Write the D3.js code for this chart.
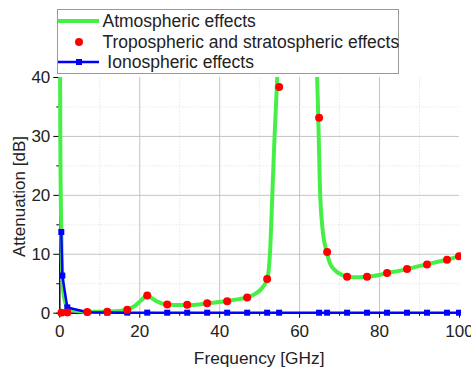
<!DOCTYPE html>
<html>
<head>
<meta charset="utf-8">
<script src="https://cdn.jsdelivr.net/npm/d3@7"></script>
<style>
  body { margin: 0; background: #fff; }
  svg { display: block; font-family: 'Liberation Sans', Arial, sans-serif; }
  .axis path, .axis line { stroke: #000; stroke-width: 1; }
  .axis text { font-size: 17px; fill: #222; }
  .grid line { stroke: #c4c4c4; stroke-width: 1; }
  .grid path { stroke: none; }
  .minorGrid line { stroke: #dcdcdc; stroke-width: 1; stroke-dasharray: 1,2; }
  .minorGrid path { stroke: none; }
</style>
</head>
<body>
<div id="graph"></div>
<script>
// Total atmospheric attenuation (green curve)
var atmFreq = [0.1, 0.25, 0.5, 0.75, 1, 1.5, 2, 3, 5, 7, 10, 12, 15, 17, 19, 20.5, 22, 23.5, 24.5, 26, 27, 30, 32, 35, 37, 40, 42, 45, 47, 49, 50.5, 52, 52.7, 53.3, 53.8, 54.4, 54.8, 60,
               64.5, 64.8, 65.2, 65.8, 66.9, 67.7, 69.3, 70.5, 72, 75, 77, 80, 82, 85, 87, 90, 92, 95, 97, 100];
var atmVal  = [60, 30, 13.7, 6.3, 3.6, 1.7, 1.0, 0.55, 0.25, 0.15, 0.15, 0.2, 0.3, 0.5, 1.2, 2.1, 2.9, 2.3, 1.9, 1.5, 1.4, 1.3, 1.3, 1.4, 1.6, 1.8, 2.0, 2.3, 2.6, 3.2, 4.0, 5.7, 10, 20, 29, 38, 45, 150,
               40, 33, 21.4, 14.6, 10.3, 8.4, 7.0, 6.5, 6.1, 6.0, 6.1, 6.4, 6.75, 7.1, 7.4, 7.9, 8.2, 8.7, 9.0, 9.6];

// Tropospheric and stratospheric effects (red dots)
var tropoFreq = [0.5, 2, 7, 12, 17, 22, 27, 32, 37, 42, 47, 52, 55, 65, 67, 72, 77, 82, 87, 92, 97, 100];
var tropoVal  = [0, 0.05, 0.1, 0.17, 0.5, 2.9, 1.4, 1.35, 1.6, 1.95, 2.6, 5.7, 38.3, 33.1, 10.3, 6.1, 6.1, 6.75, 7.4, 8.2, 9.0, 9.6];

// Ionospheric effects (blue squares)
var ionoFreq = [0.5, 0.75, 2, 7, 12, 17, 22, 27, 32, 37, 42, 47, 52, 55, 65, 67, 72, 77, 82, 87, 92, 97, 100];
var ionoVal  = [13.7, 6.3, 0.9, 0.07, 0.02, 0.01, 0.01, 0, 0, 0, 0, 0, 0, 0, 0, 0, 0, 0, 0, 0, 0, 0, 0];

var xTicks      = [0, 20, 40, 60, 80, 100];
var xMinorTicks = [10, 30, 50, 70, 90];
var yTicks      = [0, 10, 20, 30, 40];
var yMinorTicks = [5, 15, 25, 35];

var legendLabels = ['Atmospheric effects', 'Tropospheric and stratospheric effects', ' Ionospheric effects'];

var xTitle = 'Frequency [GHz]';
var yTitle = 'Attenuation [dB]';

function D3App ()
{
    var margin = { top: 77, right: 12, bottom: 58.3, left: 59.3 };
    var width  = 471 - margin.left - margin.right;
    var height = 371 - margin.top  - margin.bottom;

    var green = '#46ef46';
    var red   = '#ff0000';
    var blue  = '#0000ff';

    var root = d3.select ('#graph')
                 .append ('svg')
                 .attr ('width', 471)
                 .attr ('height', 371);

    var svg = root.append ('g')
                  .attr ('transform', 'translate(' + margin.left + ',' + margin.top + ')');

    var xScale = d3.scaleLinear ()
                   .domain ( [ 0, 100 ] )
                   .range ( [ 0, width ] );

    var yScale = d3.scaleLinear ()
                   .domain ( [ 0, 40 ] )
                   .range ( [ height, 0 ] );

    // grid lines, minor dotted then major solid
    svg.append ('g')
       .attr ('class', 'minorGrid')
       .attr ('transform', 'translate(0,' + height + ')')
       .call (d3.axisBottom (xScale).tickValues (xMinorTicks).tickSize (-height).tickFormat (''));

    svg.append ('g')
       .attr ('class', 'minorGrid')
       .call (d3.axisLeft (yScale).tickValues (yMinorTicks).tickSize (-width).tickFormat (''));

    svg.append ('g')
       .attr ('class', 'grid')
       .attr ('transform', 'translate(0,' + height + ')')
       .call (d3.axisBottom (xScale).tickValues ( [20, 40, 60, 80] ).tickSize (-height).tickFormat (''));

    svg.append ('g')
       .attr ('class', 'grid')
       .call (d3.axisLeft (yScale).tickValues ( [10, 20, 30] ).tickSize (-width).tickFormat (''));

    svg.append ('clipPath')
       .attr ('id', 'graphArea')
       .append ('rect')
       .attr ('x', -2)
       .attr ('y', 0)
       .attr ('width', width + 4)
       .attr ('height', height + 4);

    // axes
    svg.append ('g')
       .attr ('class', 'x axis')
       .attr ('transform', 'translate(0,' + height + ')')
       .call (d3.axisBottom (xScale).tickValues (xMinorTicks).tickSize (3).tickFormat (''));

    svg.append ('g')
       .attr ('class', 'x axis')
       .attr ('transform', 'translate(0,' + height + ')')
       .call (d3.axisBottom (xScale).tickValues (xTicks).tickSize (5).tickSizeOuter (0).tickPadding (7).tickFormat (d3.format ('d')));

    svg.append ('g')
       .attr ('class', 'y axis')
       .call (d3.axisLeft (yScale).tickValues (yMinorTicks).tickSize (3).tickFormat (''));

    svg.append ('g')
       .attr ('class', 'y axis')
       .call (d3.axisLeft (yScale).tickValues (yTicks).tickSize (6).tickSizeOuter (0).tickPadding (3).tickFormat (d3.format ('d')));

    // series
    var atmData   = atmFreq.map (function (f, i) { return { x: f, y: atmVal[i] }; });
    var tropoData = tropoFreq.map (function (f, i) { return { x: f, y: tropoVal[i] }; });
    var ionoData  = ionoFreq.map (function (f, i) { return { x: f, y: ionoVal[i] }; });

    var smoothLine = d3.line ()
                       .x (function (d) { return xScale (d.x); })
                       .y (function (d) { return yScale (d.y); })
                       .curve (d3.curveMonotoneX);

    var straightLine = d3.line ()
                         .x (function (d) { return xScale (d.x); })
                         .y (function (d) { return yScale (d.y); });

    var plot = svg.append ('g')
                  .attr ('clip-path', 'url(#graphArea)');

    plot.append ('path')
        .datum (atmData)
        .attr ('d', smoothLine)
        .attr ('fill', 'none')
        .attr ('stroke', green)
        .attr ('stroke-width', 4);

    plot.append ('path')
        .datum (ionoData)
        .attr ('d', straightLine)
        .attr ('fill', 'none')
        .attr ('stroke', blue)
        .attr ('stroke-width', 2.5);

    plot.selectAll ('.ionoPt')
        .data (ionoData)
        .enter ()
        .append ('rect')
        .attr ('class', 'ionoPt')
        .attr ('x', function (d) { return xScale (d.x) - 3; })
        .attr ('y', function (d) { return yScale (d.y) - 3; })
        .attr ('width', 6)
        .attr ('height', 6)
        .attr ('fill', blue);

    plot.selectAll ('.tropoPt')
        .data (tropoData)
        .enter ()
        .append ('circle')
        .attr ('class', 'tropoPt')
        .attr ('cx', function (d) { return xScale (d.x); })
        .attr ('cy', function (d) { return yScale (d.y); })
        .attr ('r', 4)
        .attr ('fill', red);

    // axis titles
    root.append ('text')
        .attr ('x', margin.left + width / 2)
        .attr ('y', 364)
        .attr ('text-anchor', 'middle')
        .style ('font-size', '17.3px')
        .style ('fill', '#222')
        .text (xTitle);

    root.append ('text')
        .attr ('transform', 'translate(25,' + 196.5 + ') rotate(-90)')
        .attr ('text-anchor', 'middle')
        .style ('font-size', '17px')
        .style ('fill', '#222')
        .text (yTitle);

    // legend
    var legend = root.append ('g')
                     .attr ('transform', 'translate(57.5,9.5)');

    legend.append ('rect')
          .attr ('width', 341)
          .attr ('height', 64)
          .attr ('fill', '#fff')
          .attr ('stroke', '#999');

    var rowY = [11.5, 32.5, 52.5];

    legend.append ('line')
          .attr ('x1', 0.5).attr ('x2', 41.5)
          .attr ('y1', rowY[0]).attr ('y2', rowY[0])
          .attr ('stroke', green)
          .attr ('stroke-width', 4);

    legend.append ('circle')
          .attr ('cx', 21.5)
          .attr ('cy', rowY[1])
          .attr ('r', 4)
          .attr ('fill', red);

    legend.append ('line')
          .attr ('x1', 0.5).attr ('x2', 41.5)
          .attr ('y1', rowY[2]).attr ('y2', rowY[2])
          .attr ('stroke', blue)
          .attr ('stroke-width', 2.5);

    legend.append ('rect')
          .attr ('x', 18.5).attr ('y', rowY[2] - 3)
          .attr ('width', 6).attr ('height', 6)
          .attr ('fill', blue);

    legend.selectAll ('.legText')
          .data (legendLabels)
          .enter ()
          .append ('text')
          .attr ('class', 'legText')
          .attr ('x', 45)
          .attr ('y', function (d, i) { return rowY[i] + 5.9; })
          .style ('font-size', '17.5px')
          .style ('fill', '#222')
          .style ('white-space', 'pre')
          .text (function (d) { return d; });
}

D3App ();
</script>
</body>
</html>
